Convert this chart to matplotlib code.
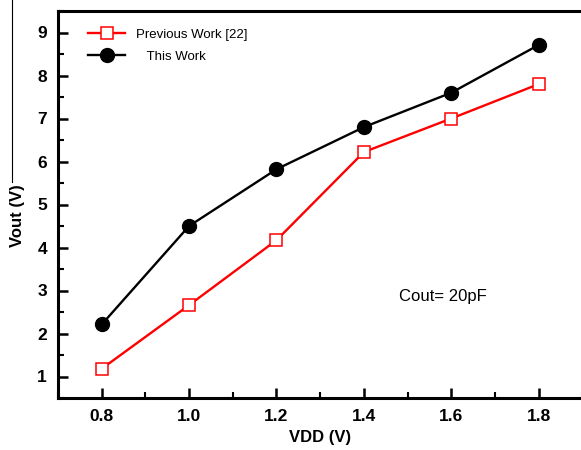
import matplotlib
matplotlib.use('Agg')

import matplotlib.pyplot as plt
from matplotlib.lines import Line2D
from matplotlib.ticker import MultipleLocator

plt.rcParams['font.family'] = ['Liberation Sans', 'DejaVu Sans']

vdd = [0.8, 1.0, 1.2, 1.4, 1.6, 1.8]
prev_work = [1.18, 2.66, 4.17, 6.22, 7.0, 7.8]
this_work = [2.21, 4.5, 5.82, 6.8, 7.6, 8.71]
x_ticks = [0.8, 1.0, 1.2, 1.4, 1.6, 1.8]
y_ticks = [1, 2, 3, 4, 5, 6, 7, 8, 9]

fig = plt.figure(figsize=(5.81, 4.5), dpi=100)
ax = fig.add_axes([58 / 581, 52 / 450, 524.4 / 581, 387 / 450])

ax.plot(vdd, prev_work, color='#ff0000', linewidth=1.7, marker='s',
        markersize=9, markerfacecolor='white', markeredgecolor='#ff0000',
        markeredgewidth=1.1, label='Previous Work [22]', zorder=3)
ax.plot(vdd, this_work, color='black', linewidth=1.7, marker='o',
        markersize=10, markerfacecolor='black', markeredgecolor='black',
        label='   This Work', zorder=3)

ax.set_xlim(0.7, 1.9)
ax.set_ylim(0.5, 9.5)
ax.set_xticks(x_ticks)
ax.set_xticklabels([f'{v:.1f}' for v in x_ticks])
ax.set_yticks(y_ticks)
ax.xaxis.set_minor_locator(MultipleLocator(0.1))
ax.yaxis.set_minor_locator(MultipleLocator(0.5))

ax.tick_params(which='major', direction='in', length=7, width=1.8,
               labelsize=12.5, pad=8)
ax.tick_params(which='minor', direction='in', length=4, width=1.5)
for lab in ax.get_xticklabels() + ax.get_yticklabels():
    lab.set_fontweight('bold')

for sp in ax.spines.values():
    sp.set_linewidth(2.2)
# right edge of the frame falls outside the cropped picture
ax.spines['right'].set_visible(False)

ax.set_xlabel('VDD (V)', fontsize=12, fontweight='bold', labelpad=4)
ax.set_ylabel('Vout (V)', fontsize=12, fontweight='bold')
ax.yaxis.set_label_coords(-0.062, 0.47)

ax.text(1.48, 2.85, 'Cout= 20pF', fontsize=12, ha='left', va='center')

ax.legend(loc='upper left', bbox_to_anchor=(0.035, 0.985), frameon=False,
          fontsize=9.5, handlelength=2.8, handletextpad=0.8,
          labelspacing=0.75)

# stray vertical rule left of the y label, as in the scan
fig.add_artist(Line2D([12 / 581, 12 / 581], [1.0, 1 - 182 / 450],
                      color='black', linewidth=0.8))

fig.savefig('out.png', dpi=100)
